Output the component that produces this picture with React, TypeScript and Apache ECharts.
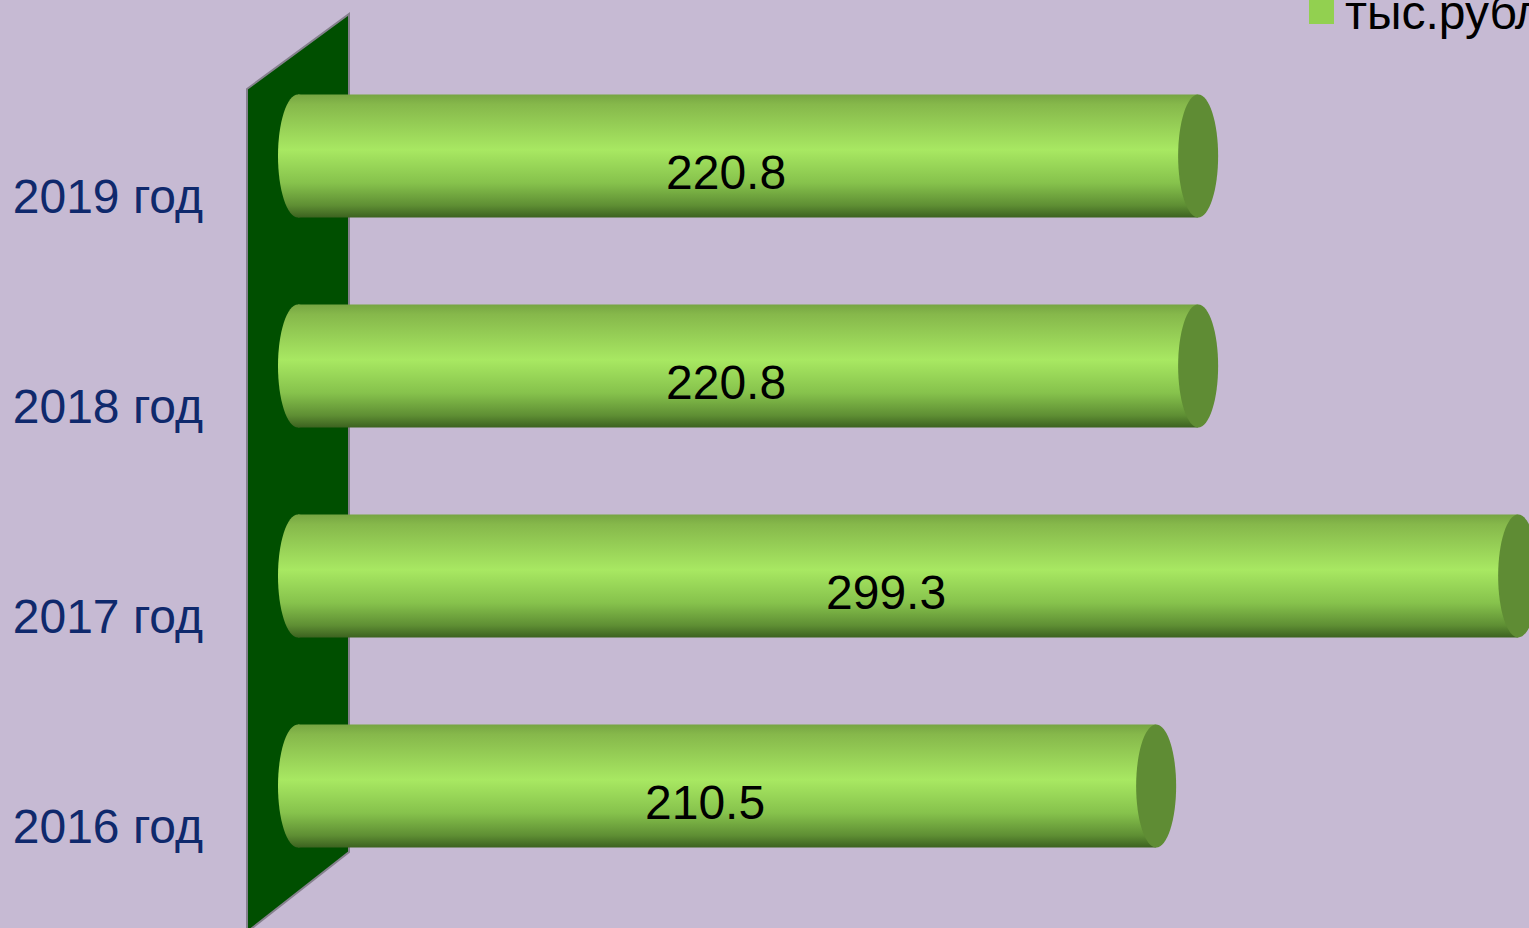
import React, { useEffect, useRef } from "react";
import * as echarts from "echarts";

const categories = ["2016 год", "2017 год", "2018 год", "2019 год"];
const values = [210.5, 299.3, 220.8, 220.8];
const seriesName = "тыс.рублей";

export default function App() {
  const ref = useRef<HTMLDivElement>(null);

  useEffect(() => {
    const chart = echarts.init(ref.current as HTMLDivElement, null, { renderer: "svg" });

    const bodyStops = [
      { offset: 0, color: "#76a542" },
      { offset: 0.08, color: "#86b84b" },
      { offset: 0.45, color: "#a8e862" },
      { offset: 0.72, color: "#86c24c" },
      { offset: 0.9, color: "#5f8f34" },
      { offset: 1, color: "#3c6220" },
    ];

    const renderItem = (params: any, api: any) => {
      const v = api.value(0);
      const idx = api.value(1);
      const p0 = api.coord([0, idx]);
      const p1 = api.coord([v, idx]);
      const yc = p0[1] - 40;
      const h = 123;
      const rx = 20;
      const x0 = p0[0];
      const x1 = p1[0];
      const grad = () => new echarts.graphic.LinearGradient(0, 0, 0, 1, bodyStops);
      return {
        type: "group",
        children: [
          {
            type: "ellipse",
            shape: { cx: x0, cy: yc, rx: rx, ry: h / 2 },
            style: { fill: grad() },
          },
          {
            type: "rect",
            shape: { x: x0, y: yc - h / 2, width: x1 - x0, height: h },
            style: { fill: grad() },
          },
          {
            type: "ellipse",
            shape: { cx: x1, cy: yc, rx: rx, ry: h / 2 },
            style: { fill: "#5f8c34" },
          },
          {
            type: "text",
            style: {
              text: String(v),
              x: (x0 + x1) / 2 - 22,
              y: yc + 16,
              align: "center",
              verticalAlign: "middle",
              fill: "#000000",
              font: "48px 'Liberation Sans', Arial, sans-serif",
            },
          },
        ],
      };
    };

    chart.setOption({
      animation: false,
      backgroundColor: "#c6bad3",
      legend: {
        left: 1309,
        top: -12,
        padding: 0,
        icon: "rect",
        itemWidth: 25,
        itemHeight: 24,
        data: [{ name: seriesName, itemStyle: { color: "#92d050" } }],
        textStyle: {
          fontSize: 48,
          color: "#000000",
          fontFamily: "'Liberation Sans', Arial, sans-serif",
          padding: [0, 0, 0, 6],
        },
      },
      grid: { left: 298, right: 8, top: 91, bottom: 9 },
      xAxis: { type: "value", min: 0, max: 300, show: false },
      yAxis: {
        type: "category",
        data: categories,
        axisLine: { show: false },
        axisTick: { show: false },
        splitLine: { show: false },
        axisLabel: {
          margin: 95,
          fontSize: 48,
          color: "#0f296c",
          fontFamily: "'Liberation Sans', Arial, sans-serif",
        },
      },
      graphic: [
        {
          type: "polygon",
          z: 0,
          shape: {
            points: [
              [247, 89],
              [349, 14],
              [349, 852],
              [247, 932],
            ],
          },
          style: { fill: "#004f00", stroke: "#85808d", lineWidth: 2 },
        },
      ],
      series: [
        {
          type: "custom",
          name: seriesName,
          data: values.map((v, i) => [v, i]),
          encode: { x: 0, y: 1 },
          itemStyle: { color: "#92d050" },
          renderItem,
          z: 5,
        },
      ],
    });

    return () => chart.dispose();
  }, []);

  return (
    <div
      ref={ref}
      style={{ position: "fixed", left: 0, top: 0, width: 1529, height: 940 }}
    />
  );
}
